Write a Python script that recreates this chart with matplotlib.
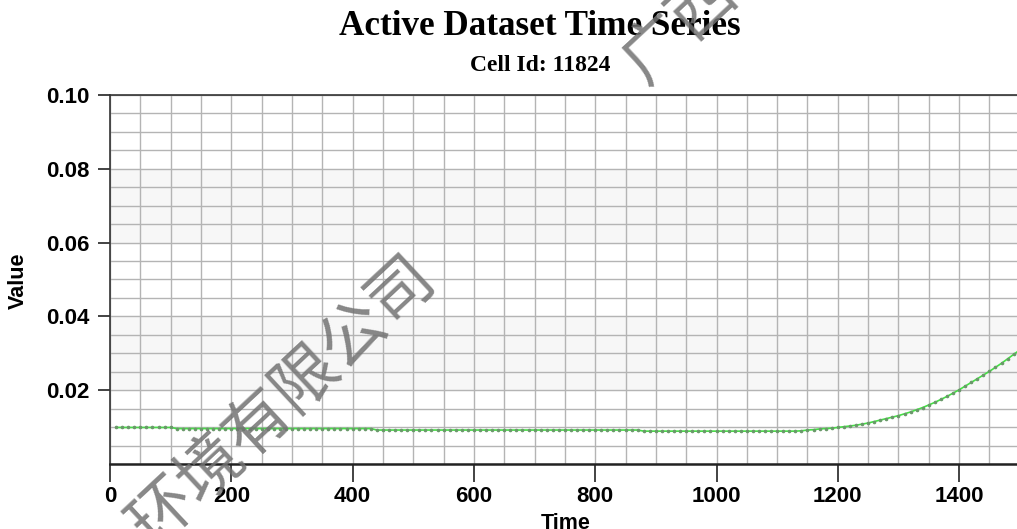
import numpy as np
import matplotlib
matplotlib.use("Agg")
import matplotlib.pyplot as plt
import matplotlib.patheffects as pe

time = list(range(10, 1510, 10))
value = ([0.0099] * 10 +          # 10 - 100
         [0.0096] * 33 +          # 110 - 430
         [0.0092] * 44 +          # 440 - 870
         [0.0089] * 26 +          # 880 - 1130
         [0.0090, 0.0092, 0.0093, 0.0095, 0.0096, 0.0097, 0.0099, 0.0101,
          0.0103, 0.0105, 0.0108, 0.0111, 0.0115, 0.0119, 0.0123, 0.0127,
          0.0131, 0.0136, 0.0141, 0.0147, 0.0153, 0.0160, 0.0167, 0.0175,
          0.0183, 0.0192, 0.0201, 0.0211, 0.0221, 0.0231, 0.0241, 0.0251,
          0.0262, 0.0273, 0.0285, 0.0297, 0.0309])

x_ticks = [0, 200, 400, 600, 800, 1000, 1200, 1400]
y_ticks = [0.02, 0.04, 0.06, 0.08, 0.10]
bands = [(0.02, 0.04), (0.06, 0.08)]

plt.rcParams['font.family'] = ['Liberation Sans', 'DejaVu Sans']

fig = plt.figure(figsize=(10.17, 5.29), dpi=100)
ax = fig.add_axes([0.1082, 0.1229, 0.8945, 0.6975])

for lo, hi in bands:
    ax.axhspan(lo, hi, color='#f7f7f7', zorder=0)

ax.plot(time, value, color='#44e044', linewidth=1.2, zorder=3)
ax.plot(time, value, linestyle='none', marker='o', markersize=1.6,
        color='#6a996a', zorder=4)

ax.set_xlim(0, 1500)
ax.set_ylim(0, 0.10)
ax.set_xticks(x_ticks)
ax.set_xticklabels([str(t) for t in x_ticks])
ax.set_yticks(y_ticks)
ax.set_yticklabels([f"{t:.2f}" for t in y_ticks])
ax.set_xticks(np.arange(0, 1501, 50), minor=True)
ax.set_yticks(np.arange(0, 0.1001, 0.005), minor=True)
ax.grid(which='both', color='#b4b4b4', linewidth=1.0, zorder=1)
ax.set_axisbelow(True)

ax.tick_params(which='minor', length=0)
ax.tick_params(axis='x', which='major', length=13, width=1.2, direction='out',
               pad=3, labelsize=16, color='#222222')
ax.tick_params(axis='y', which='major', length=9, width=1.2, direction='out',
               pad=6, labelsize=16, color='#222222')
for lab in ax.get_xticklabels() + ax.get_yticklabels():
    lab.set_fontweight('bold')

ax.spines['right'].set_visible(False)
ax.spines['left'].set_color('#333333')
ax.spines['left'].set_linewidth(1.2)
ax.spines['top'].set_color('#333333')
ax.spines['top'].set_linewidth(1.2)
ax.spines['bottom'].set_color('#222222')
ax.spines['bottom'].set_linewidth(1.8)
ax.spines['bottom'].set_path_effects([
    pe.SimplePatchShadow(offset=(2, -2.5), shadow_rgbFace='#777777', alpha=0.8),
    pe.Normal()])

fig.text(0.531, 0.949, 'Active Dataset Time Series', ha='center', va='center',
         family='Liberation Serif', fontweight='bold', fontsize=25.3)
fig.text(0.531, 0.877, 'Cell Id: 11824', ha='center', va='center',
         family='Liberation Serif', fontweight='bold', fontsize=17)
fig.text(0.0177, 0.47, 'Value', rotation=90, ha='center', va='center',
         fontweight='bold', fontsize=15.5)
fig.text(0.556, 0.01, 'Time', ha='center', va='center',
         fontweight='bold', fontsize=15.5)

# watermark
wm_font = ['Noto Sans CJK SC', 'DejaVu Sans']
fig.text(283 / 1017, 1 - 402 / 529, '环境有限公司', rotation=43,
         ha='center', va='center', family=wm_font, fontweight='light',
         fontsize=47, color='#727272', alpha=0.85, zorder=10)
fig.text(680 / 1017, 1 - 27 / 529, '广西', rotation=43,
         ha='center', va='center', family=wm_font, fontweight='light',
         fontsize=47, color='#727272', alpha=0.85, zorder=10)

fig.savefig('out.png', dpi=100)
